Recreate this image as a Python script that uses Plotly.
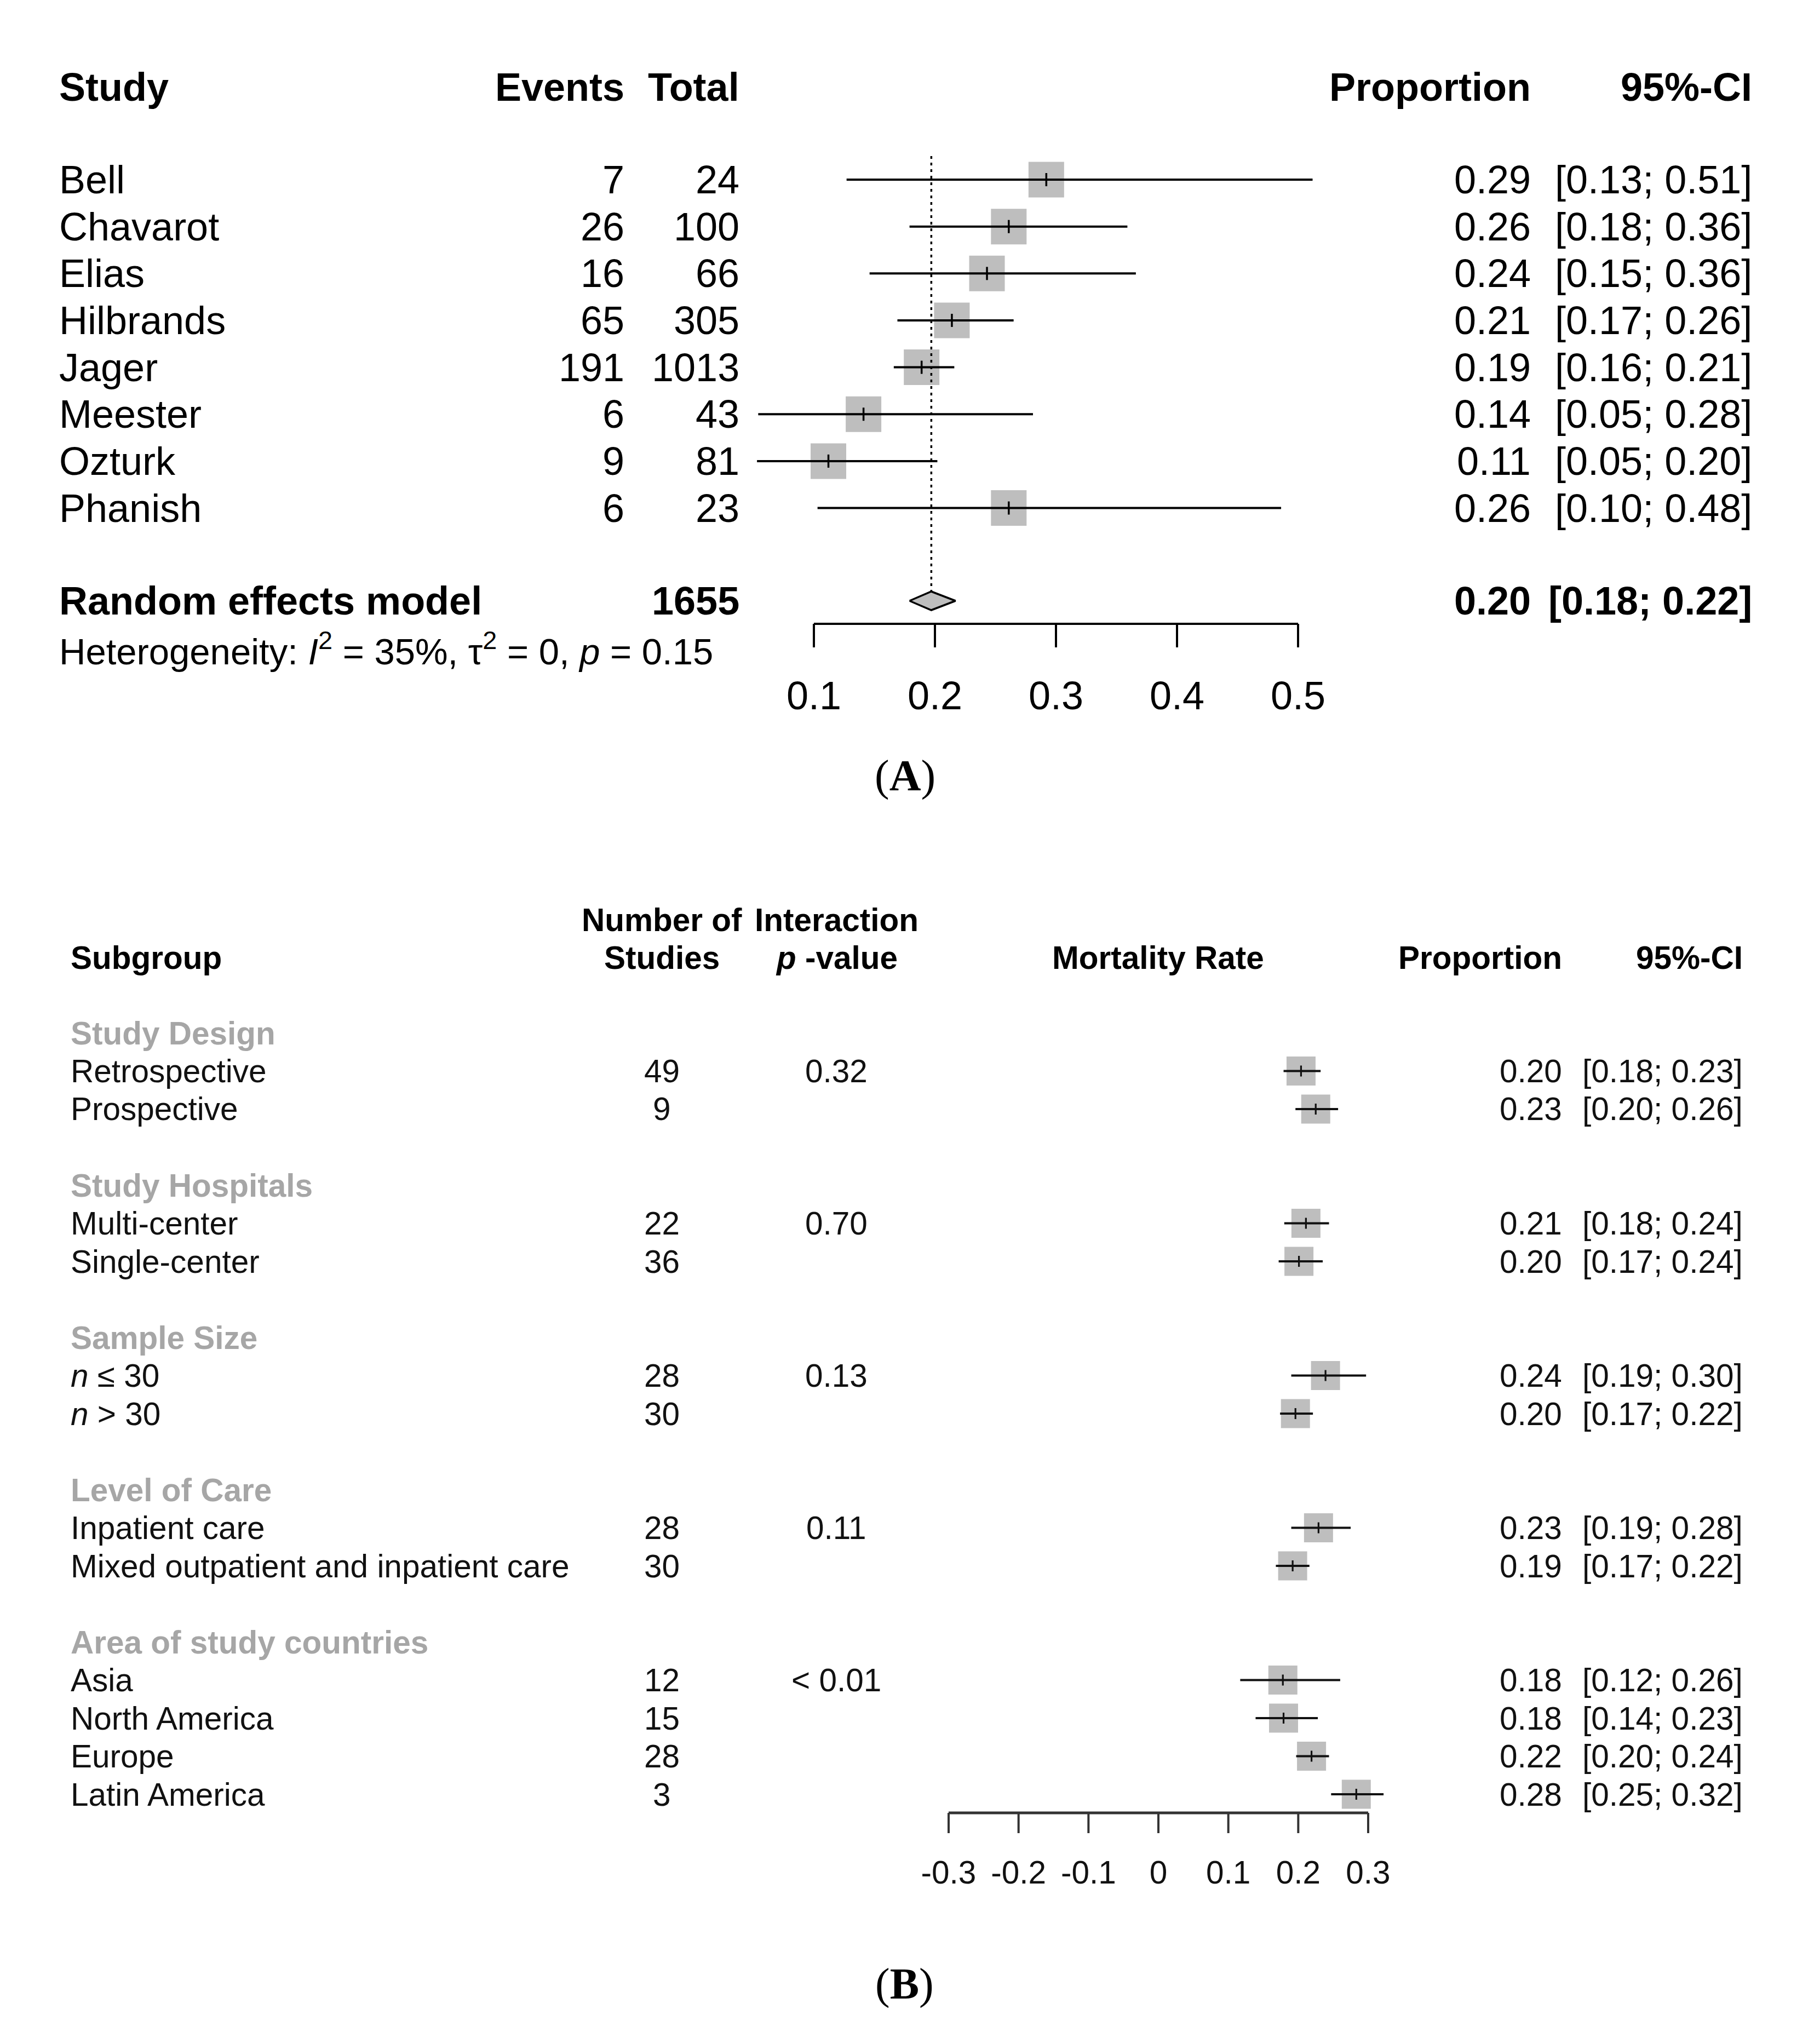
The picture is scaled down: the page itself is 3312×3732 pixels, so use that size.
import plotly.graph_objects as go

W, H = 3312, 3732

# ---------------- Panel A data ----------------
studies = ["Bell", "Chavarot", "Elias", "Hilbrands", "Jager", "Meester", "Ozturk", "Phanish"]
events = [7, 26, 16, 65, 191, 6, 9, 6]
totals = [24, 100, 66, 305, 1013, 43, 81, 23]
prop_a = [0.292, 0.261, 0.243, 0.214, 0.189, 0.141, 0.112, 0.261]
lo_a = [0.127, 0.179, 0.146, 0.169, 0.166, 0.054, 0.053, 0.103]
hi_a = [0.512, 0.359, 0.366, 0.265, 0.216, 0.281, 0.202, 0.486]
prop_a_txt = ["0.29", "0.26", "0.24", "0.21", "0.19", "0.14", "0.11", "0.26"]
ci_a_txt = ["[0.13; 0.51]", "[0.18; 0.36]", "[0.15; 0.36]", "[0.17; 0.26]",
            "[0.16; 0.21]", "[0.05; 0.28]", "[0.05; 0.20]", "[0.10; 0.48]"]
re_total = 1655
re_est, re_lo, re_hi = 0.197, 0.179, 0.217
re_prop_txt, re_ci_txt = "0.20", "[0.18; 0.22]"
ticks_a = [0.1, 0.2, 0.3, 0.4, 0.5]
tick_a_labels = ["0.1", "0.2", "0.3", "0.4", "0.5"]

# ---------------- Panel B data ----------------
groups = ["Study Design", "Study Hospitals", "Sample Size", "Level of Care", "Area of study countries"]
p_inter = ["0.32", "0.70", "0.13", "0.11", "< 0.01"]
sub_names = ["Retrospective", "Prospective", "Multi-center", "Single-center",
             "<i>n</i> ≤ 30", "<i>n</i> > 30", "Inpatient care", "Mixed outpatient and inpatient care",
             "Asia", "North America", "Europe", "Latin America"]
sub_group = [0, 0, 1, 1, 2, 2, 3, 3, 4, 4, 4, 4]
n_studies = [49, 9, 22, 36, 28, 30, 28, 30, 12, 15, 28, 3]
prop_b = [0.204, 0.225, 0.211, 0.201, 0.239, 0.196, 0.229, 0.192, 0.178, 0.179, 0.219, 0.283]
lo_b = [0.179, 0.196, 0.180, 0.172, 0.190, 0.174, 0.190, 0.168, 0.117, 0.139, 0.197, 0.247]
hi_b = [0.232, 0.257, 0.244, 0.235, 0.297, 0.221, 0.275, 0.216, 0.260, 0.228, 0.244, 0.322]
prop_b_txt = ["0.20", "0.23", "0.21", "0.20", "0.24", "0.20", "0.23", "0.19", "0.18", "0.18", "0.22", "0.28"]
ci_b_txt = ["[0.18; 0.23]", "[0.20; 0.26]", "[0.18; 0.24]", "[0.17; 0.24]", "[0.19; 0.30]",
            "[0.17; 0.22]", "[0.19; 0.28]", "[0.17; 0.22]", "[0.12; 0.26]", "[0.14; 0.23]",
            "[0.20; 0.24]", "[0.25; 0.32]"]
ticks_b = [-0.3, -0.2, -0.1, 0, 0.1, 0.2, 0.3]
tick_b_labels = ["-0.3", "-0.2", "-0.1", "0", "0.1", "0.2", "0.3"]

# ---------------- layout geometry ----------------
FONT = "Liberation Sans"
SQ_COLOR = "#BEBEBE"
FA, FB = 72, 58.5

# panel A x scale: 0.1 -> 1486px, 0.5 -> 2370px
a_ppu = (2370 - 1486) / 0.4
a_r0 = 0.1 - 1486 / a_ppu
a_r1 = a_r0 + W / a_ppu
# panel B x scale: -0.3 -> 1732px, 0.3 -> 2498px
b_ppu = (2498 - 1732) / 0.6
b_r0 = -0.3 - 1732 / b_ppu
b_r1 = b_r0 + W / b_ppu

A_ROW0, A_STEP = 328, 85.65
A_HEAD, A_RE, A_HET = 159, 1097, 1185
A_AXIS, A_TICKLEN, A_TLAB = 1139, 43, 1277
B_ROW0, B_STEP = 1886, 69.5
B_HEAD1, B_HEAD2 = 1679, 1748
B_AXIS, B_TICKLEN, B_TLAB = 3310, 37, 3424

ya = [A_ROW0 + i * A_STEP for i in range(len(studies))]

# row positions for panel B
head_y = []
sub_y = []
r = 0
for g in range(len(groups)):
    head_y.append(B_ROW0 + r * B_STEP)
    r += 1
    for k, sg in enumerate(sub_group):
        if sg == g:
            sub_y.append(B_ROW0 + r * B_STEP)
            r += 1
    r += 1

fig = go.Figure()


def seg_trace(xs0, xs1, ys0, ys1, axis, color="black", width=3, dash=None):
    X, Y = [], []
    for a, b, c, d in zip(xs0, xs1, ys0, ys1):
        X += [a, b, None]
        Y += [c, d, None]
    fig.add_trace(go.Scatter(x=X, y=Y, mode="lines", xaxis=axis, yaxis="y",
                             line=dict(color=color, width=width, dash=dash),
                             hoverinfo="skip", showlegend=False))


# ---- Panel A marks ----
fig.add_trace(go.Scatter(x=prop_a, y=ya, mode="markers", xaxis="x", yaxis="y",
                         marker=dict(symbol="square", size=65, color=SQ_COLOR, line=dict(width=0)),
                         showlegend=False, hoverinfo="skip"))
seg_trace([re_est], [re_est], [285], [A_RE - 17], "x", width=3.5, dash="5px,7px")
seg_trace(lo_a, hi_a, ya, ya, "x", width=4)
seg_trace(prop_a, prop_a, [y - 12 for y in ya], [y + 12 for y in ya], "x", width=3.5)
fig.add_trace(go.Scatter(x=[re_lo, re_est, re_hi, re_est, re_lo],
                         y=[A_RE, A_RE - 17, A_RE, A_RE + 17, A_RE],
                         mode="lines", fill="toself", fillcolor=SQ_COLOR,
                         line=dict(color="black", width=3.5), xaxis="x", yaxis="y",
                         showlegend=False, hoverinfo="skip"))
# axis A
seg_trace([ticks_a[0]], [ticks_a[-1]], [A_AXIS], [A_AXIS], "x", width=4)
seg_trace(ticks_a, ticks_a, [A_AXIS] * len(ticks_a), [A_AXIS + A_TICKLEN] * len(ticks_a), "x", width=4)
fig.add_trace(go.Scatter(x=ticks_a, y=[A_TLAB] * len(ticks_a), mode="text", text=tick_a_labels,
                         textposition="middle center", textfont=dict(family=FONT, size=FA, color="black"),
                         xaxis="x", yaxis="y", showlegend=False, hoverinfo="skip"))

# ---- Panel B marks ----
fig.add_trace(go.Scatter(x=prop_b, y=sub_y, mode="markers", xaxis="x2", yaxis="y",
                         marker=dict(symbol="square", size=53, color=SQ_COLOR, line=dict(width=0)),
                         showlegend=False, hoverinfo="skip"))
seg_trace(lo_b, hi_b, sub_y, sub_y, "x2", color="#111111", width=4)
seg_trace(prop_b, prop_b, [y - 10 for y in sub_y], [y + 10 for y in sub_y], "x2", color="#111111", width=3.2)
seg_trace([ticks_b[0]], [ticks_b[-1]], [B_AXIS], [B_AXIS], "x2", color="#333333", width=5)
seg_trace(ticks_b, ticks_b, [B_AXIS] * len(ticks_b), [B_AXIS + B_TICKLEN] * len(ticks_b), "x2",
          color="#333333", width=4)
fig.add_trace(go.Scatter(x=ticks_b, y=[B_TLAB] * len(ticks_b), mode="text", text=tick_b_labels,
                         textposition="middle center", textfont=dict(family=FONT, size=FB, color="#111111"),
                         xaxis="x2", yaxis="y", showlegend=False, hoverinfo="skip"))

# ---- text ----
ann = []


def txt(px, py, s, anchor="left", size=FA, bold=False, color="black", family=FONT):
    if bold:
        s = "<b>" + s + "</b>"
    if anchor == "right":
        px += 4
    ann.append(dict(x=px / W, y=1 - py / H, xref="paper", yref="paper", text=s, showarrow=False,
                    xanchor=anchor, yanchor="middle", borderpad=0,
                    font=dict(family=family, size=size, color=color)))


# panel A headers
txt(107, A_HEAD, "Study", bold=True)
txt(1137, A_HEAD, "Events", "right", bold=True)
txt(1347, A_HEAD, "Total", "right", bold=True)
txt(2792, A_HEAD, "Proportion", "right", bold=True)
txt(3196, A_HEAD, "95%-CI", "right", bold=True)
for i in range(len(studies)):
    txt(107, ya[i], studies[i])
    txt(1137, ya[i], str(events[i]), "right")
    txt(1347, ya[i], str(totals[i]), "right")
    txt(2792, ya[i], prop_a_txt[i], "right")
    txt(3196, ya[i], ci_a_txt[i], "right")
txt(107, A_RE, "Random effects model", bold=True)
txt(1347, A_RE, str(re_total), "right", bold=True)
txt(2792, A_RE, re_prop_txt, "right", bold=True)
txt(3196, A_RE, re_ci_txt, "right", bold=True)
txt(107, A_HET, "Heterogeneity: <i>I</i><sup>2</sup> = 35%, τ<sup>2</sup> = 0, <i>p</i> = 0.15", size=67)
txt(1652, 1416, "(<b>A</b>)", "center", size=80, family="Liberation Serif")

# panel B headers
txt(1208, B_HEAD1, "Number of", "center", FB, True)
txt(1527, B_HEAD1, "Interaction", "center", FB, True)
txt(128, B_HEAD2, "Subgroup", "left", FB, True)
txt(1208, B_HEAD2, "Studies", "center", FB, True)
txt(1527, B_HEAD2, "<i>p</i> -value", "center", FB, True)
txt(2114, B_HEAD2, "Mortality Rate", "center", FB, True)
txt(2849, B_HEAD2, "Proportion", "right", FB, True)
txt(3179, B_HEAD2, "95%-CI", "right", FB, True)
first_of_group = {}
for k, g in enumerate(sub_group):
    first_of_group.setdefault(g, k)
for g in range(len(groups)):
    txt(128, head_y[g], groups[g], "left", FB, True, color="#A6A6A6")
    txt(1527, sub_y[first_of_group[g]], p_inter[g], "center", FB, color="#111111")
for k in range(len(sub_names)):
    txt(128, sub_y[k], sub_names[k], "left", FB, color="#111111")
    txt(1208, sub_y[k], str(n_studies[k]), "center", FB, color="#111111")
    txt(2849, sub_y[k], prop_b_txt[k], "right", FB, color="#111111")
    txt(3179, sub_y[k], ci_b_txt[k], "right", FB, color="#111111")
txt(1651, 3622, "(<b>B</b>)", "center", size=80, family="Liberation Serif")

fig.update_layout(
    width=W, height=H, margin=dict(l=0, r=0, t=0, b=0),
    paper_bgcolor="white", plot_bgcolor="white", showlegend=False,
    xaxis=dict(range=[a_r0, a_r1], domain=[0, 1], visible=False, fixedrange=True),
    xaxis2=dict(range=[b_r0, b_r1], domain=[0, 1], overlaying="x", visible=False, fixedrange=True),
    yaxis=dict(range=[H, 0], domain=[0, 1], visible=False, fixedrange=True),
    annotations=ann,
)

fig.write_html("out.html", config={"displayModeBar": False},
               post_script="document.body.style.margin='0px';document.body.style.overflow='hidden';")
